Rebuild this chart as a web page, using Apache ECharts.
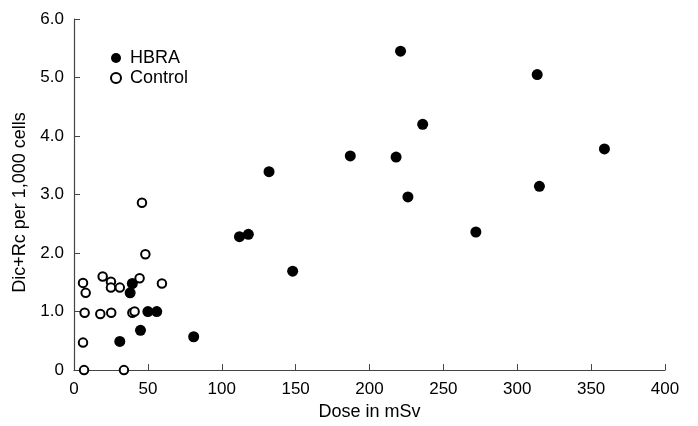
<!DOCTYPE html>
<html>
<head>
<meta charset="utf-8">
<script src="https://cdn.jsdelivr.net/npm/echarts@6/dist/echarts.min.js"></script>
<style>
  html, body { margin: 0; padding: 0; background: #fff; }
  #chart { width: 698px; height: 426px; }
</style>
</head>
<body>
<div id="chart"></div>
<script>
// dose (mSv) and Dic+Rc per 1,000 cells
var hbraDose  = [221, 236, 187, 218, 132, 226, 313.5, 359, 315, 272, 112, 118, 148, 81, 39.5, 38, 50, 56, 45, 31];
var hbraRate  = [5.45, 4.2, 3.66, 3.64, 3.39, 2.96, 5.05, 3.78, 3.14, 2.36, 2.28, 2.32, 1.69, 0.57, 1.48, 1.32, 1.0, 1.0, 0.68, 0.49];
var ctrlDose  = [46, 48.3, 19.4, 6.1, 25, 25, 31, 44.4, 59.5, 7.9, 7.2, 17.8, 25.2, 39.5, 41, 6.1, 6.8, 33.8];
var ctrlRate  = [2.86, 1.98, 1.6, 1.49, 1.51, 1.41, 1.41, 1.57, 1.48, 1.32, 0.98, 0.96, 0.98, 0.98, 1.0, 0.47, 0, 0];

var seriesNames = ['HBRA', 'Control'];
var xTitle = 'Dose in mSv';
var yTitle = 'Dic+Rc per 1,000 cells';

function pairs(xs, ys) {
    return xs.map(function (x, i) { return [x, ys[i]]; });
}

var font = 'Liberation Sans, Arial, sans-serif';
var axisColor = '#444';

var chart = echarts.init(document.getElementById('chart'));
chart.setOption({
    animation: false,
    grid: { left: 74, right: 33, top: 19, bottom: 53 },
    legend: {
        orient: 'vertical',
        left: 110,
        top: 49,
        padding: 0,
        itemWidth: 10,
        itemHeight: 10,
        itemGap: 2,
        icon: 'circle',
        textStyle: { fontFamily: font, fontSize: 18, color: '#000', lineHeight: 18, padding: [0, 0, 0, 4] },
        data: seriesNames
    },
    xAxis: {
        type: 'value',
        min: 0, max: 400, interval: 50,
        name: xTitle,
        nameLocation: 'middle',
        nameGap: 27,
        nameTextStyle: { fontFamily: font, fontSize: 18, color: '#000' },
        splitLine: { show: false },
        axisLine: { lineStyle: { color: axisColor, width: 1.2 } },
        axisTick: { inside: true, length: 6, lineStyle: { color: axisColor } },
        axisLabel: { fontFamily: font, fontSize: 17, color: '#000', margin: 11 }
    },
    yAxis: {
        type: 'value',
        min: 0, max: 6, interval: 1,
        name: yTitle,
        nameLocation: 'middle',
        nameGap: 44,
        nameTextStyle: { fontFamily: font, fontSize: 18, color: '#000', padding: [0, 16, 0, 0] },
        splitLine: { show: false },
        axisLine: { show: true, lineStyle: { color: axisColor, width: 1.2 } },
        axisTick: { show: true, inside: true, length: 6, lineStyle: { color: axisColor } },
        axisLabel: {
            fontFamily: font, fontSize: 17, color: '#000', margin: 10,
            formatter: function (v) { return v === 0 ? '0' : v.toFixed(1); }
        }
    },
    series: [
        {
            name: seriesNames[0],
            type: 'scatter',
            symbol: 'circle',
            symbolSize: 11,
            itemStyle: { color: '#000', opacity: 1 },
            data: pairs(hbraDose, hbraRate)
        },
        {
            name: seriesNames[1],
            type: 'scatter',
            symbol: 'circle',
            symbolSize: 8.5,
            itemStyle: { color: '#fff', borderColor: '#000', borderWidth: 2, opacity: 1 },
            data: pairs(ctrlDose, ctrlRate)
        }
    ]
});
</script>
</body>
</html>
